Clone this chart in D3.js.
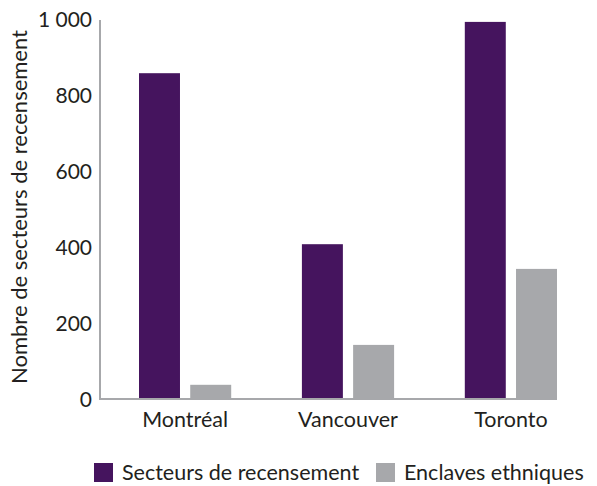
<!DOCTYPE html>
<html>
<head>
<meta charset="utf-8">
<script src="https://cdn.jsdelivr.net/npm/d3@7"></script>
<style>
  body { margin: 0; background: #fff; }
  text { font-family: Lato, "Open Sans", sans-serif; fill: #231f20; }
</style>
</head>
<body>
<div id="viz"></div>
<script>
// data
const cities = ["Montréal", "Vancouver", "Toronto"];
const seriesNames = ["Secteurs de recensement", "Enclaves ethniques"];
const secteurs = [860, 410, 995];
const enclaves = [40, 145, 345];
const yTicks = [0, 200, 400, 600, 800, 1000];
const seriesColors = ["#45145e", "#a7a8ab"];

const width = 597, height = 486;
const svg = d3.select("#viz").append("svg")
    .attr("width", width)
    .attr("height", height);

const axisLeftX = 100, axisRightX = 557;
const y = d3.scaleLinear().domain([0, 1000]).range([400, 20]);

const x0 = d3.scaleBand()
    .domain(cities)
    .range([139, axisRightX])
    .paddingInner(0.434)
    .paddingOuter(0);

const x1 = d3.scaleBand()
    .domain(seriesNames)
    .range([0, x0.bandwidth()])
    .paddingInner(0.2);

const color = d3.scaleOrdinal().domain(seriesNames).range(seriesColors);

const rows = cities.map((c, i) => ({
    city: c,
    values: [
        { key: seriesNames[0], value: secteurs[i] },
        { key: seriesNames[1], value: enclaves[i] }
    ]
}));

// bars
const groups = svg.selectAll("g.city")
    .data(rows)
    .enter()
    .append("g")
    .attr("class", "city")
    .attr("transform", d => `translate(${x0(d.city)},0)`);

groups.selectAll("rect")
    .data(d => d.values)
    .enter()
    .append("rect")
    .attr("x", d => x1(d.key))
    .attr("y", d => y(d.value))
    .attr("width", x1.bandwidth())
    .attr("height", d => y(0) - y(d.value))
    .attr("fill", d => color(d.key));

// axis lines
const axisColor = "#a7a8ab";
svg.append("line")
    .attr("x1", axisLeftX).attr("x2", axisLeftX)
    .attr("y1", y(1000)).attr("y2", y(0))
    .attr("stroke", axisColor).attr("stroke-width", 2);
svg.append("line")
    .attr("x1", axisLeftX - 1).attr("x2", axisRightX)
    .attr("y1", y(0) - 1).attr("y2", y(0) - 1)
    .attr("stroke", axisColor).attr("stroke-width", 2);

// y ticks
const fr = d3.formatLocale({ decimal: ",", thousands: " ", grouping: [3], currency: ["", " €"] });
const fmt = fr.format(",d");
const yAxis = svg.append("g")
    .attr("transform", `translate(${axisLeftX},0)`)
    .call(d3.axisLeft(y).tickValues(yTicks).tickFormat(fmt).tickSize(0).tickPadding(8));
yAxis.select(".domain").remove();
yAxis.selectAll("text")
    .attr("font-size", "21px")
    .attr("font-family", "Lato, sans-serif")
    .attr("fill", "#231f20");

// x labels
const xAxis = svg.append("g")
    .attr("transform", `translate(0,${y(0)})`)
    .call(d3.axisBottom(x0).tickSize(0).tickPadding(12));
xAxis.select(".domain").remove();
xAxis.selectAll("text")
    .attr("font-size", "21.5px")
    .attr("font-family", "Lato, sans-serif")
    .attr("fill", "#231f20");

// y title
svg.append("text")
    .attr("transform", `translate(27,207) rotate(-90)`)
    .attr("text-anchor", "middle")
    .attr("font-size", "22px")
    .text("Nombre de secteurs de recensement");

// legend
const legendItems = [
    { key: seriesNames[0], x: 94, tx: 122 },
    { key: seriesNames[1], x: 376, tx: 404 }
];
const legend = svg.append("g").attr("transform", "translate(0,463)");
legend.selectAll("rect")
    .data(legendItems)
    .enter()
    .append("rect")
    .attr("x", d => d.x)
    .attr("y", 0)
    .attr("width", 19)
    .attr("height", 19)
    .attr("fill", d => color(d.key));
legend.selectAll("text")
    .data(legendItems)
    .enter()
    .append("text")
    .attr("x", d => d.tx)
    .attr("y", 17)
    .attr("font-size", "21.5px")
    .text(d => d.key);
</script>
</body>
</html>
